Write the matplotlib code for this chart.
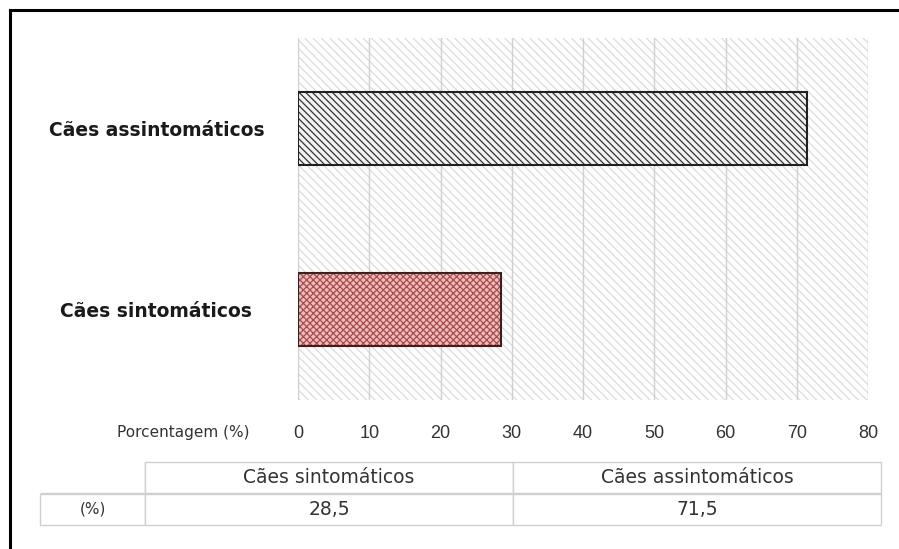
import matplotlib.pyplot as plt
from matplotlib.patches import Rectangle
from matplotlib.lines import Line2D

plt.rcParams['font.family'] = ['Liberation Sans', 'DejaVu Sans']
plt.rcParams['hatch.linewidth'] = 0.9

categorias = ["Cães sintomáticos", "Cães assintomáticos"]
porcentagens = [28.5, 71.5]
valores_tabela = ["28,5", "71,5"]
ticks_x = [0, 10, 20, 30, 40, 50, 60, 70, 80]

fig = plt.figure(figsize=(8.99, 5.49), dpi=100)
ax = fig.add_axes([298 / 899, 1 - 400 / 549, 570 / 899, 362 / 549])

# fundo hachurado da area do grafico
ax.set_facecolor("white")
ax.add_patch(Rectangle((0, 0), 1, 1, transform=ax.transAxes, facecolor="white",
                       edgecolor="#dcdcdc", hatch="\\\\\\\\", linewidth=0, zorder=0))
for x in ticks_x:
    ax.axvline(x, color="#d0d0d0", linewidth=1.0, zorder=1)

ypos = [0, 1]
# barra dos sintomaticos (xadrez vermelho)
ax.barh(ypos[0], porcentagens[0], height=0.4, color="#efbcbc", edgecolor="#a84c4c",
        hatch="xxxxx", linewidth=0, zorder=2)
# barra dos assintomaticos (listras escuras)
ax.barh(ypos[1], porcentagens[1], height=0.4, color="#f2f2f2", edgecolor="#333333",
        hatch="\\\\\\\\\\", linewidth=0, zorder=2)
ax.barh(ypos, porcentagens, height=0.4, fill=False, edgecolor=["#3a2020", "#202020"],
        linewidth=1.5, zorder=3)

ax.set_xlim(0, 80)
ax.set_ylim(-0.5, 1.5)
ax.set_xticks(ticks_x)
ax.set_xticklabels([str(t) for t in ticks_x], fontsize=13, color="#333333")
ax.set_yticks(ypos)
ax.set_yticklabels(categorias, fontsize=13.5, fontweight="bold", color="#1a1a1a",
                   ha="center", family="DejaVu Sans")
ax.tick_params(axis="x", length=0, pad=18)
ax.tick_params(axis="y", length=0, pad=102)
for s in ax.spines.values():
    s.set_visible(False)

fig.text(250 / 899, 1 - 432 / 549, "Porcentagem (%)", fontsize=11, color="#333333",
         ha="right", va="center", family="DejaVu Sans")

# tabela de dados abaixo do grafico
tab_ax = fig.add_axes([40 / 899, 1 - 525 / 549, 841 / 899, 63 / 549])
tab_ax.axis("off")
tabela = tab_ax.table(cellText=[["(%)"] + valores_tabela],
                      colLabels=[""] + categorias,
                      colWidths=[105, 368, 368],
                      cellLoc="center", bbox=[0, 0, 1, 1])
tabela.auto_set_font_size(False)
for (r, c), cell in tabela.get_celld().items():
    cell.set_edgecolor("#cfcfcf")
    cell.set_linewidth(1.0)
    txt = cell.get_text()
    txt.set_color("#333333")
    txt.set_family("DejaVu Sans")
    txt.set_fontsize(13.5 if c > 0 else 11)
    if r == 0 and c == 0:
        cell.visible_edges = "BR"

# moldura externa
fig.add_artist(Line2D([10 / 899, 10 / 899], [0, 1 - 10 / 549], color="black", linewidth=2.2))
fig.add_artist(Line2D([10 / 899, 1], [1 - 10 / 549, 1 - 10 / 549], color="black", linewidth=2.2))

fig.savefig("out.png", dpi=100)
